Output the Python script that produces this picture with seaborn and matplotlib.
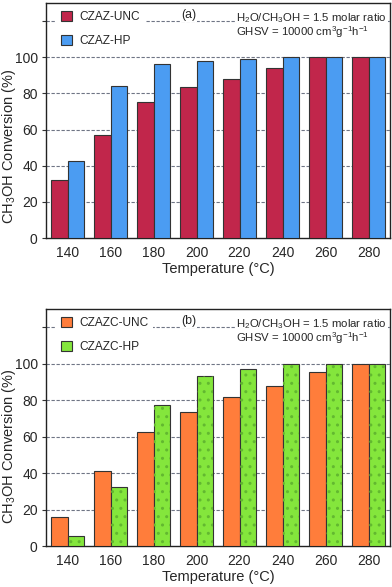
import numpy as np
import pandas as pd
import matplotlib
matplotlib.use("Agg")
import matplotlib.pyplot as plt
import seaborn as sns
from matplotlib.patches import Rectangle

# ---- data ----
temps = ["140", "160", "180", "200", "220", "240", "260", "280"]

czaz_unc = [32, 57, 75, 83.3, 88, 94.3, 100, 100]
czaz_hp = [42.7, 84, 96.5, 98, 98.8, 100, 100, 100]

czazc_unc = [16, 41.4, 62.8, 73.4, 82, 87.7, 95.6, 100]
czazc_hp = [5.5, 32.6, 77.1, 93.2, 97.2, 100, 100, 100]

sns.set_style("white")
plt.rcParams["font.family"] = ["Liberation Sans", "DejaVu Sans"]
plt.rcParams["mathtext.fontset"] = "custom"
plt.rcParams["mathtext.rm"] = "Liberation Sans"
plt.rcParams["mathtext.it"] = "Liberation Sans:italic"
plt.rcParams["mathtext.default"] = "regular"


def long_df(unc, hp, names):
    return pd.DataFrame({
        "Temperature": temps * 2,
        "Conversion": list(unc) + list(hp),
        "Catalyst": [names[0]] * len(temps) + [names[1]] * len(temps),
    })


def draw_panel(ax, df, names, colors, tag, label_y, dotted=False):
    sns.barplot(data=df, x="Temperature", y="Conversion", hue="Catalyst",
                hue_order=names, palette=colors, width=0.76,
                edgecolor="#333333", linewidth=0.8, saturation=1, ax=ax, zorder=3)
    if dotted:
        # light stipple on the HP bars
        for p in ax.containers[1]:
            ax.add_patch(Rectangle(p.get_xy(), p.get_width(), p.get_height(),
                                   fill=False, hatch="..", edgecolor="#62b830",
                                   linewidth=0, zorder=4))
    ax.set_ylim(0, 130)
    ax.set_xlim(-0.5, 7.5)
    ax.set_yticks([0, 20, 40, 60, 80, 100, 120])
    ax.set_yticklabels(["0", "20", "40", "60", "80", "100", ""])
    for y in [20, 40, 60, 80, 100, 120]:
        ax.axhline(y, color="#6f7585", lw=0.8, ls=(0, (3, 1.5)), zorder=1)
    ax.tick_params(axis="y", length=3, width=0.8, color="#333333",
                   labelsize=10, pad=3, direction="out", left=True)
    ax.tick_params(axis="x", length=0, labelsize=10, pad=6)
    for s in ax.spines.values():
        s.set_color("#222222")
        s.set_linewidth(1.0)
    ax.set_xlabel("Temperature (°C)", fontsize=10.5, labelpad=1)
    ax.set_ylabel("CH$_3$OH Conversion (%)", fontsize=10.5)
    ax.yaxis.set_label_coords(-0.08, label_y)

    leg = ax.legend(loc="upper left", bbox_to_anchor=(0.02, 1.0), frameon=True,
                    fancybox=False, framealpha=1, facecolor="white",
                    edgecolor="none", handlelength=0.9, handleheight=0.9,
                    labelspacing=0.95, fontsize=8.6, borderaxespad=0.3,
                    borderpad=0.4, handletextpad=0.6)
    leg.set_zorder(5)
    if dotted:
        for h in leg.legend_handles[1:]:
            h.set_hatch(".")

    box = dict(facecolor="white", edgecolor="none", pad=0.5)
    ax.text(0.415, 0.949, tag, transform=ax.transAxes, ha="center", va="center",
            fontsize=8.8, bbox=box, zorder=6)
    ax.text(0.553, 0.936, "H$_2$O/CH$_3$OH = 1.5 molar ratio",
            transform=ax.transAxes, ha="left", va="center", fontsize=8.2,
            bbox=box, zorder=6)
    ax.text(0.553, 0.877, "GHSV = 10000 cm$^3$g$^{-1}$h$^{-1}$",
            transform=ax.transAxes, ha="left", va="center", fontsize=8.2,
            bbox=box, zorder=6)


fig = plt.figure(figsize=(3.92, 5.87), dpi=100)
ax1 = fig.add_axes([46 / 392, 1 - 238 / 587, 344 / 392, 235 / 587])
ax2 = fig.add_axes([46 / 392, 1 - 546 / 587, 344 / 392, 237 / 587])

names_a = ["CZAZ-UNC", "CZAZ-HP"]
names_b = ["CZAZC-UNC", "CZAZC-HP"]

draw_panel(ax1, long_df(czaz_unc, czaz_hp, names_a), names_a,
           ["#c1264b", "#4b9cf2"], "(a)", 0.39)
draw_panel(ax2, long_df(czazc_unc, czazc_hp, names_b), names_b,
           ["#ff7d3b", "#84e63c"], "(b)", 0.42, dotted=True)

fig.savefig("out.png", dpi=100)
